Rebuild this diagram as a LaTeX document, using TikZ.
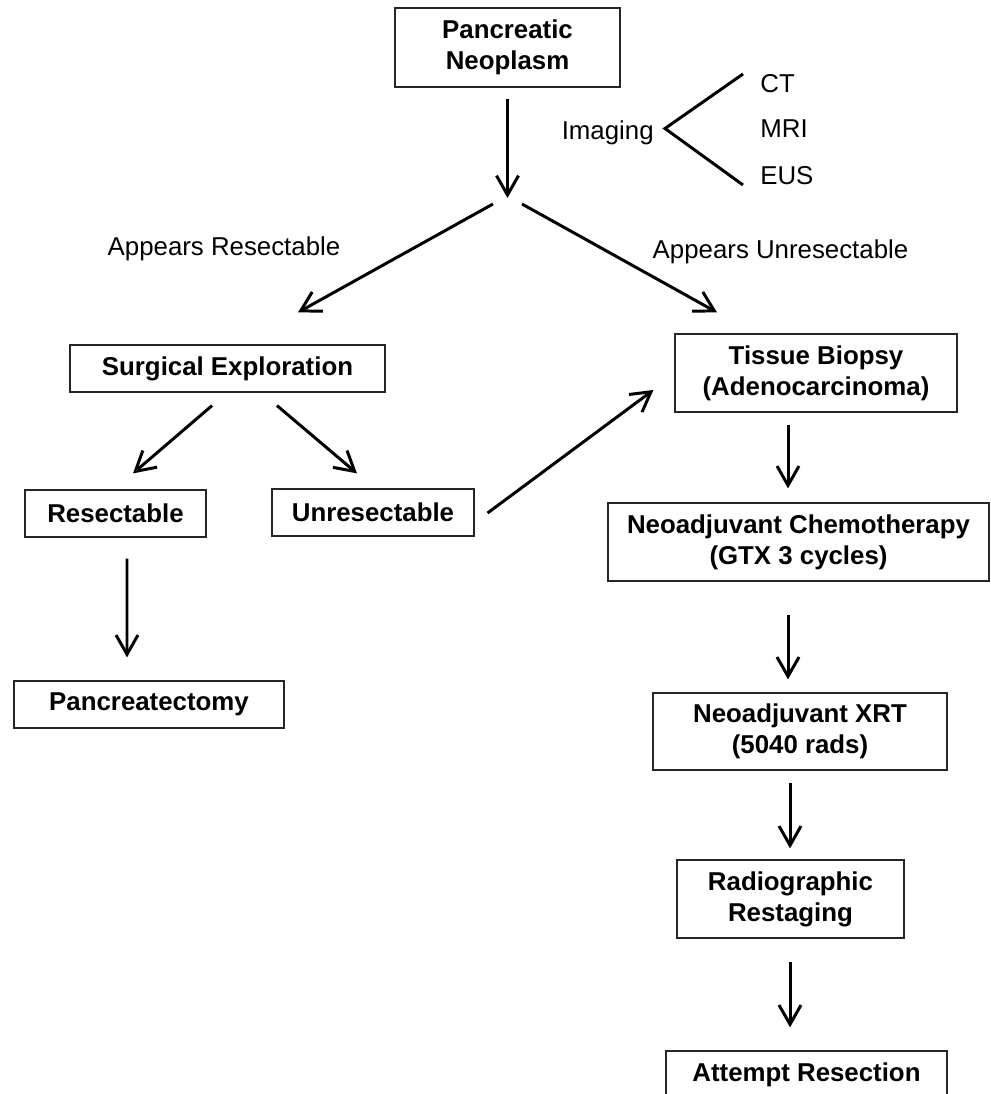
\documentclass[tikz,border=0pt]{standalone}
\usepackage{fontspec}
\setmainfont{Liberation Sans}
\usetikzlibrary{arrows.meta}

\tikzset{
  box/.style={draw=black!85, line width=0.7pt, align=center, inner sep=0pt,
    font=\fontsize{14.7}{17.5}\selectfont\bfseries},
  lbl/.style={inner sep=0pt, font=\fontsize{14.7}{17.5}\selectfont},
  arr/.style={line width=1.7pt, -{Straight Barb[length=11pt,width=12.5pt]}},
  brk/.style={line width=1.7pt},
}

\begin{document}
\begin{tikzpicture}[x=0.02cm,y=-0.02cm]
\useasboundingbox (0,0) rectangle (990,1094);
\clip (0,0) rectangle (990,1094);

% boxes
\node[box, minimum width=4.5cm, minimum height=1.58cm] (neo) at (507.5,47.5) {Pancreatic\\Neoplasm};
\node[box, minimum width=6.3cm, minimum height=0.94cm] (surg) at (227.5,368.5) {Surgical Exploration};
\node[box, minimum width=3.62cm, minimum height=0.94cm] (res) at (115.5,513.5) {Resectable};
\node[box, minimum width=4.04cm, minimum height=0.94cm] (unres) at (373,512.5) {Unresectable};
\node[box, minimum width=5.4cm, minimum height=0.94cm] (panc) at (149,704.5) {Pancreatectomy};
\node[box, minimum width=5.64cm, minimum height=1.56cm] (tb) at (816,373) {Tissue Biopsy\\(Adenocarcinoma)};
\node[box, minimum width=7.62cm, minimum height=1.56cm] (nc) at (798.5,542) {Neoadjuvant Chemotherapy\\(GTX 3 cycles)};
\node[box, minimum width=5.88cm, minimum height=1.54cm] (xrt) at (800,731.5) {Neoadjuvant XRT\\(5040 rads)};
\node[box, minimum width=4.54cm, minimum height=1.56cm] (rr) at (790.5,899) {Radiographic\\Restaging};
\node[box, minimum width=5.62cm, minimum height=0.94cm] (ar) at (806.5,1074.5) {Attempt Resection};

% plain labels
\node[lbl, anchor=base east] (img) at (654,140) {Imaging};
\node[lbl, anchor=base west] (ct) at (760,93) {CT};
\node[lbl, anchor=base west] (mri) at (760,138) {MRI};
\node[lbl, anchor=base west] (eus) at (760,185) {EUS};
\node[lbl, anchor=base] (apres) at (224,256) {Appears Resectable};
\node[lbl, anchor=base] (apunres) at (780.5,259) {Appears Unresectable};

\coordinate (fork) at (507.5,198);
\coordinate (vtx) at (665,128.5);

% imaging bracket
\draw[brk] ([shift={(-17,-19)}]ct.base west) -- (vtx) -- ([shift={(-17,0)}]eus.base west);

% arrows
\draw[arr, shorten <=0.22cm] (neo.south) -- (fork);
\draw[arr] ([shift={(-14.5,6)}]fork) -- ([shift={(70.5,-32)}]surg.north);
\draw[arr] ([shift={(14.5,6)}]fork) -- ([shift={(-99,-21)}]tb.north);
\draw[arr] ([shift={(-15.5,13)}]surg.south) -- ([shift={(17.5,-16)}]res.north);
\draw[arr] ([shift={(49.5,13)}]surg.south) -- ([shift={(-16,-15)}]unres.north);
\draw[arr] ([shift={(11.5,21)}]res.south) -- ([shift={(-22,-23)}]panc.north);
\draw[arr] ([shift={(13,0.5)}]unres.east) -- ([shift={(-21,17)}]tb.west);
\draw[arr] ([shift={(-28,12)}]tb.south) -- ([shift={(-10.5,-14)}]nc.north);
\draw[arr] ([shift={(-10.5,33)}]nc.south) -- ([shift={(-12,-13)}]xrt.north);
\draw[arr] ([shift={(-10,12.5)}]xrt.south) -- ([shift={(-0.5,-11)}]rr.north);
\draw[arr] ([shift={(-0.5,23.6)}]rr.south) -- ([shift={(-16.5,-23)}]ar.north);
\end{tikzpicture}
\end{document}
